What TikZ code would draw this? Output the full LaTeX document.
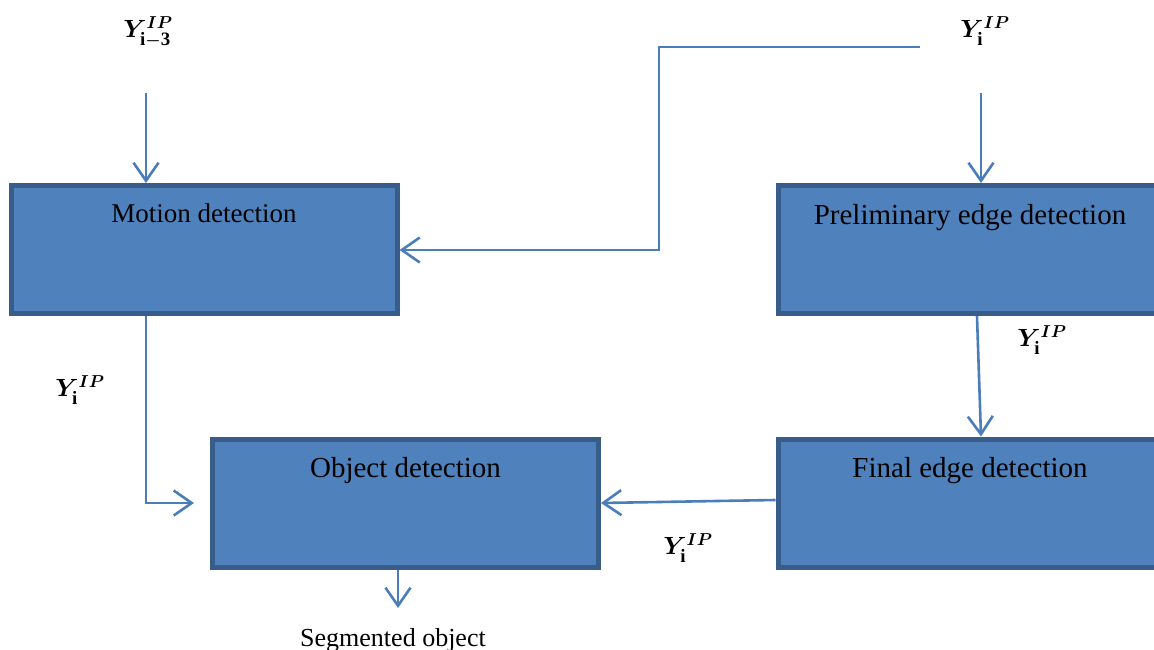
\documentclass[tikz,border=0pt]{standalone}
\usepackage{fontspec}
\usepackage{amsmath,bm}
\setmainfont{Liberation Serif}
\usetikzlibrary{arrows.meta,calc}
\definecolor{BoxFill}{RGB}{79,129,189}
\definecolor{BoxLine}{RGB}{56,93,138}
\definecolor{LnBlue} {RGB}{74,126,187}
\tikzset{
  nd_box/.style={rectangle,draw=BoxLine,fill=BoxFill,line width=5pt,minimum width=386pt,minimum height=128pt,inner sep=0pt},
  nd_ttl/.style={anchor=base,inner sep=0pt,font=\fontsize{29}{32}\selectfont},
  nd_lbl/.style={inner sep=0pt,font=\fontsize{27}{30}\selectfont},
  arr/.style={-{Straight Barb[length=18pt,width=25pt,line width=2.6pt]},line width=2.6pt,draw=LnBlue},
}
\begin{document}
\begin{tikzpicture}[x=1pt,y=-1pt]
\useasboundingbox (0,0) rectangle (1154,650);
% boxes
\node[nd_box] at (204,249.5)(MD){};
\node[nd_box] at (971,249.5)(PE){};
\node[nd_box] at (405.5,503)(OD){};
\node[nd_box] at (971,503)(FE){};
\node[nd_ttl,font=\fontsize{27}{30}\selectfont] at ($(MD.north)+(0,39)$)(MDt){Motion detection};
\node[nd_ttl] at ($(PE.north)+(-1,41)$)(PEt){Preliminary edge detection};
\node[nd_ttl] at ($(OD.north)+(0,41)$)(ODt){Object detection};
\node[nd_ttl] at ($(FE.north)+(-1,41)$)(FEt){Final edge detection};
% labels
\node[nd_lbl] at (148,32)(L1){$\bm{Y^{IP}_{\mathrm{i-3}}}$};
\node[nd_lbl] at (985,31)(L2){$\bm{Y^{IP}_{\mathrm{i}}}$};
\node[nd_lbl] at (80,390)(L3){$\bm{Y^{IP}_{\mathrm{i}}}$};
\node[nd_lbl] at (1042,340)(L4){$\bm{Y^{IP}_{\mathrm{i}}}$};
\node[nd_lbl] at (688,548)(L5){$\bm{Y^{IP}_{\mathrm{i}}}$};
\node[font=\fontsize{26}{30}\selectfont,anchor=base,inner sep=0pt] at (393,646)(SO){Segmented object};
% free ends
\coordinate (cA) at (146,93);
\coordinate (cB) at (920,47);
\coordinate (cC) at (981,93);
\coordinate (cD) at (398,608);
% arrows
\draw[arr](cA)--(cA |- MD.north);
\draw[arr](cB)-|(659,250)--(MD.east |- 0,250);
\draw[arr](cC)--(cC |- PE.north);
\draw[arr]($(PE.south)+(6,0)$)--($(FE.north)+(10,0)$);
\draw[arr,shorten >=16pt](cA |- MD.south)|-(OD.west);
\draw[arr]($(FE.west)+(0,-3)$)--(OD.east);
\draw[arr](cD |- OD.south)--(cD);
\end{tikzpicture}
\end{document}
